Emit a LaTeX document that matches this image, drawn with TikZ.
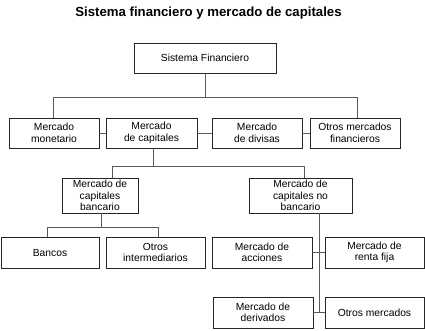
\documentclass[tikz,border=0pt]{standalone}
\usepackage{fontspec}
\setmainfont{Liberation Sans}
\begin{document}
\begin{tikzpicture}[x=1pt,y=-1pt,
  box/.style={draw=black!85,line width=0.8pt,fill=white,inner sep=0pt,align=center,
    font=\fontsize{10.3}{11.5}\selectfont},
  conn/.style={draw=black!65,line width=0.8pt}]
\useasboundingbox (0,0) rectangle (425,330);
\node[font=\bfseries\fontsize{13.2}{15}\selectfont] (title) at (208.5,13) {Sistema financiero y mercado de capitales};
% boxes
\node[box,minimum width=142pt,minimum height=30pt] (top) at (205,58) {Sistema Financiero};
\node[box,minimum width=90pt,minimum height=30pt] (mon) at (54,133) {Mercado\\monetario};
\node[box,minimum width=91pt,minimum height=30pt] (cap) at (151.5,133) {Mercado\\de capitales};
\node[box,minimum width=90pt,minimum height=30pt] (div) at (257,133) {Mercado\\de divisas};
\node[box,minimum width=90pt,minimum height=30pt] (otr) at (355,133) {Otros mercados\\financieros};
\node[box,minimum width=76pt,minimum height=35pt] (banc) at (100,195.5) {Mercado de\\capitales\\bancario};
\node[box,minimum width=103pt,minimum height=35pt] (nob) at (300.5,195.5) {Mercado de\\capitales no\\bancario};
\node[box,minimum width=98pt,minimum height=31pt] (bancos) at (50,252.5) {Bancos};
\node[box,minimum width=99pt,minimum height=31pt] (oint) at (155.5,252.5) {Otros\\intermediarios};
\node[box,minimum width=100pt,minimum height=31pt] (acc) at (262,252.5) {Mercado de\\acciones};
\node[box,minimum width=99pt,minimum height=31pt] (renta) at (374.5,252.5) {Mercado de\\renta fija};
\node[box,minimum width=100pt,minimum height=31pt] (der) at (263,312.5) {Mercado de\\derivados};
\node[box,minimum width=99pt,minimum height=31pt] (om) at (374.5,312.5) {Otros mercados};
% junctions
\coordinate (j1) at (205,97);
\coordinate (h1l) at (53,97);
\coordinate (h1r) at (357,97);
\coordinate (j2) at (153,166);
\coordinate (h2l) at (112,166);
\coordinate (h2r) at (304,166);
\coordinate (j3) at (101,227);
\coordinate (h3l) at (47,227);
\coordinate (h3r) at (158,227);
\coordinate (v4) at (319,312);
% connectors
\draw[conn] (top.south) -- (j1);
\draw[conn] (h1l |- mon.north) -- (h1l) -- (h1r) -- (h1r |- otr.north);
\draw[conn] (mon.east) -- (cap.west);
\draw[conn] (cap.east) -- (div.west);
\draw[conn] (div.east) -- (otr.west);
\draw[conn] (j2 |- cap.south) -- (j2);
\draw[conn] (h2l |- banc.north) -- (h2l) -- (h2r) -- (h2r |- nob.north);
\draw[conn] (j3 |- banc.south) -- (j3);
\draw[conn] (h3l |- bancos.north) -- (h3l) -- (h3r) -- (h3r |- oint.north);
\draw[conn] (v4 |- nob.south) -- (v4);
\draw[conn] (acc.east) -- (renta.west);
\draw[conn] (der.east) -- (om.west);
\end{tikzpicture}
\end{document}
